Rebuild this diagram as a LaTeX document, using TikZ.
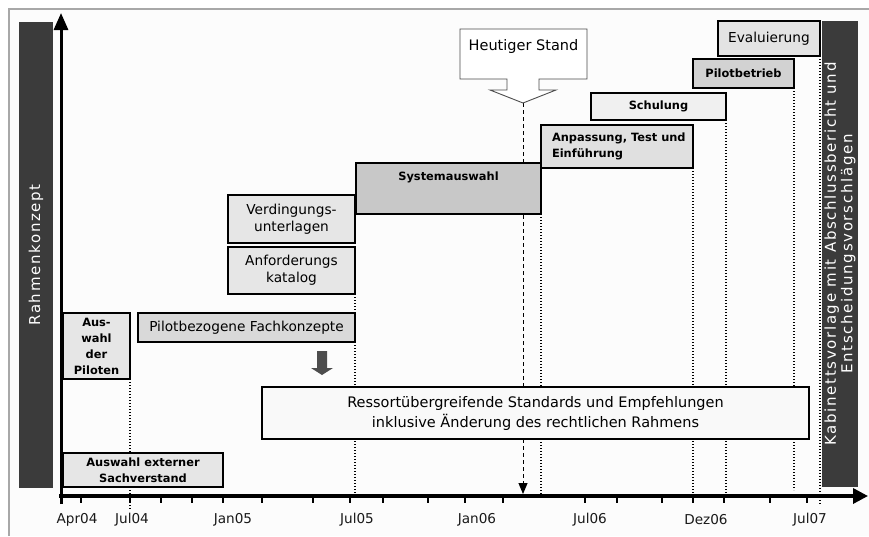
\documentclass[tikz,border=0pt]{standalone}
\usepackage{fontspec}
\setmainfont{DejaVu Sans}
\newfontfamily\barfont[LetterSpace=11]{DejaVu Sans}
\usetikzlibrary{arrows.meta,backgrounds}
\definecolor{barc}{HTML}{3B3B3B}
\definecolor{cA}{HTML}{E6E6E6}
\definecolor{cPB}{HTML}{D9D9D9}
\definecolor{cSys}{HTML}{C8C8C8}
\definecolor{cAnp}{HTML}{E0E0E0}
\definecolor{cSch}{HTML}{F0F0F0}
\definecolor{cPil}{HTML}{D2D2D2}
\definecolor{cEva}{HTML}{E3E3E3}
\definecolor{cRes}{HTML}{F9F9F9}
\definecolor{cArr}{HTML}{4D4D4D}
\definecolor{framec}{HTML}{A8A8A8}
\begin{document}
\begin{tikzpicture}[x=1pt,y=-1pt,
  every node/.style={inner sep=0pt, outer sep=0pt},
  box/.style={draw=black, line width=1.6pt, align=center},
  bold11/.style={font=\fontsize{11.4}{16}\selectfont\bfseries, align=center},
  reg14/.style={font=\fontsize{13.7}{17}\selectfont, align=center},
  dotline/.style={line width=1.1pt, dash pattern=on 1.1pt off 1.9pt},
  dashline/.style={line width=1pt, dash pattern=on 4pt off 3pt},
  ticklab/.style={font=\fontsize{13.6}{15}\selectfont, text=black!90},
  barbox/.style={fill=barc, draw=none},
  bartext/.style={text=white, font=\barfont\fontsize{15}{16.5}\selectfont, rotate=90, align=center},
  minortick/.style={line width=1.3pt},
  majortick/.style={line width=2.6pt},
]
\useasboundingbox (0,0) rectangle (869,536);

% side bars
\node[barbox, minimum width=34, minimum height=466] (rk) at (36,255) {};
\node[bartext] (rkt) at (rk.center) {Rahmenkonzept};
\node[barbox, minimum width=36, minimum height=466] (kv) at (840,254) {};
\node[bartext] (kvt) at (kv.center) {Kabinettsvorlage mit Abschlussbericht und\\Entscheidungsvorschlägen};

% boxes
\node[box, fill=cA, bold11, minimum width=160, minimum height=34] (ext) at (143,470) {Auswahl externer\\Sachverstand};
\node[box, fill=cA, bold11, minimum width=67, minimum height=66] (ausw) at (96.5,346) {Aus-\\wahl\\der\\Piloten};
\node[box, fill=cPB, reg14, minimum width=217, minimum height=29] (pbf) at (246.5,327.5) {Pilotbezogene Fachkonzepte};
\node[box, fill=cA, reg14, minimum width=127, minimum height=48] (verd) at (291.5,219) {Verdingungs-\\unterlagen};
\node[box, fill=cA, reg14, minimum width=127, minimum height=47] (anf) at (291.5,270.5) {Anforderungs\\katalog};
\node[box, fill=cSys, minimum width=185, minimum height=51] (sys) at (448.5,188.5) {};
\node[bold11] (syst) at (448.5,177) {Systemauswahl};
\node[box, fill=cAnp, minimum width=152, minimum height=43] (anp) at (617,146.5) {};
\node[bold11, align=left, anchor=north west] (anpt) at (552,132.5) {Anpassung, Test und\\Einführung};
\node[box, fill=cSch, bold11, minimum width=135, minimum height=27] (sch) at (658.5,106.5) {Schulung};
\node[box, fill=cPil, bold11, minimum width=101, minimum height=29] (pil) at (743.5,73.5) {Pilotbetrieb};
\node[box, fill=cEva, reg14, minimum width=102, minimum height=35] (eva) at (769,38.5) {Evaluierung};
\node[box, fill=cRes, font=\fontsize{14.5}{20}\selectfont, minimum width=547, minimum height=52] (res) at (535.5,413) {Ressortübergreifende Standards und Empfehlungen\\inklusive Änderung des rechtlichen Rahmens};

% block arrow
\fill[cArr] (317,351) -- (327,351) -- (327,368) -- (333,368) -- (322,375) -- (311,368) -- (317,368) -- cycle;

% callout
\path[draw=black!70, fill=white, line width=0.9pt] (460,29) -- (587,29) -- (587,79) -- (539,79) -- (539,90) -- (556,90) -- (523,103) -- (490,90) -- (507,90) -- (507,79) -- (460,79) -- cycle;
\node[font=\fontsize{14.5}{17}\selectfont] (heute) at (523.5,46) {Heutiger Stand};
\coordinate (tip) at (523,103);
\coordinate (tipend) at (523,494);

% axes
\coordinate (ybot) at (61,504);
\coordinate (ytop) at (61,13);
\coordinate (xbeg) at (59,496);
\coordinate (xend) at (868,496);
\coordinate (axl) at (0,496);
\coordinate (belowl) at (0,510);
\coordinate (pill) at (0,490);
\coordinate (eval) at (0,505);
\draw[line width=3pt, -{Triangle[length=17pt,width=14pt]}] (ybot) -- (ytop);
\draw[line width=3.4pt, -{Triangle[length=15pt,width=15pt]}] (xbeg) -- (xend);
\foreach \x in {81,161,192,262,313,383,428,503,617,662,724,770}
  \draw[minortick] (\x,496) -- (\x,503);
\foreach \x in {130,223,350,465,585,693,807}
  \draw[majortick] (\x,496) -- (\x,503);

\node[ticklab] (lApr) at (77,520) {Apr04};
\node[ticklab] (lJul4) at (132,520) {Jul04};
\node[ticklab] (lJan5) at (233,520) {Jan05};
\node[ticklab] (lJul5) at (357,520) {Jul05};
\node[ticklab] (lJan6) at (477,520) {Jan06};
\node[ticklab] (lJul6) at (590,520) {Jul06};
\node[ticklab] (lDez6) at (706,520) {Dez06};
\node[ticklab] (lJul7) at (810,520) {Jul07};

\begin{scope}[on background layer]
  \fill[white] (0,0) rectangle (869,536);
  \fill[black!1] (9,9) rectangle (869,536);
  \draw[framec, line width=1.6pt] (9,536) -- (9,9) -- (869,9);
  \draw[dotline] (ausw.south east) -- (ausw.south east |- belowl);
  \draw[dotline] (anf.south east) -- (anf.south east |- axl);
  \draw[dotline] (sys.south east) -- (sys.south east |- axl);
  \draw[dotline] (anp.south east) -- (anp.south east |- axl);
  \draw[dotline] (sch.south east) -- (sch.south east |- axl);
  \draw[dotline] (pil.south east) -- (pil.south east |- pill);
  \draw[dotline] (eva.south east) -- (eva.south east |- eval);
  \draw[dashline, -{Triangle[length=11pt,width=9pt]}] (tip) -- (tipend);
\end{scope}
\end{tikzpicture}
\end{document}
